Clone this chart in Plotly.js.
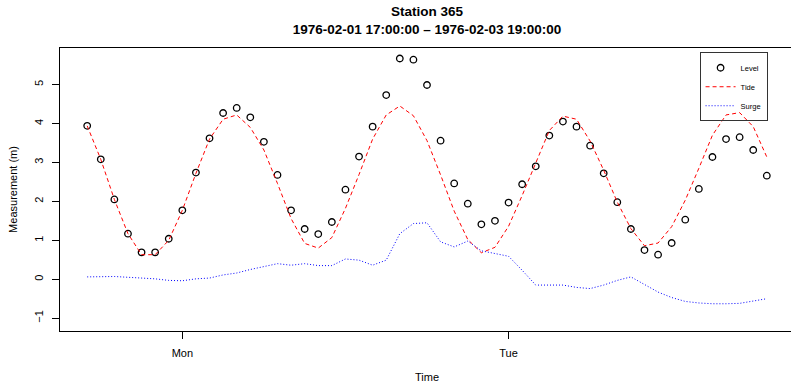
<!DOCTYPE html>
<html>
<head>
<meta charset="utf-8">
<script src="https://cdn.plot.ly/plotly-3.0.1.min.js"></script>
<style>
  html, body { margin: 0; padding: 0; overflow: hidden; background: #fff; }
  #chart { width: 794px; height: 383px; }
</style>
</head>
<body>
<div id="chart"></div>
<script>
const times = [
  '1976-02-01 17:00','1976-02-01 18:00','1976-02-01 19:00','1976-02-01 20:00','1976-02-01 21:00',
  '1976-02-01 22:00','1976-02-01 23:00','1976-02-02 00:00','1976-02-02 01:00','1976-02-02 02:00',
  '1976-02-02 03:00','1976-02-02 04:00','1976-02-02 05:00','1976-02-02 06:00','1976-02-02 07:00',
  '1976-02-02 08:00','1976-02-02 09:00','1976-02-02 10:00','1976-02-02 11:00','1976-02-02 12:00',
  '1976-02-02 13:00','1976-02-02 14:00','1976-02-02 15:00','1976-02-02 16:00','1976-02-02 17:00',
  '1976-02-02 18:00','1976-02-02 19:00','1976-02-02 20:00','1976-02-02 21:00','1976-02-02 22:00',
  '1976-02-02 23:00','1976-02-03 00:00','1976-02-03 01:00','1976-02-03 02:00','1976-02-03 03:00',
  '1976-02-03 04:00','1976-02-03 05:00','1976-02-03 06:00','1976-02-03 07:00','1976-02-03 08:00',
  '1976-02-03 09:00','1976-02-03 10:00','1976-02-03 11:00','1976-02-03 12:00','1976-02-03 13:00',
  '1976-02-03 14:00','1976-02-03 15:00','1976-02-03 16:00','1976-02-03 17:00','1976-02-03 18:00',
  '1976-02-03 19:00'
];

const level = [
  3.94,3.08,2.05,1.17,0.69,0.69,1.04,1.77,2.74,3.62,
  4.27,4.40,4.16,3.53,2.68,1.77,1.29,1.16,1.47,2.30,
  3.15,3.92,4.73,5.67,5.64,4.99,3.56,2.46,1.94,1.41,
  1.50,1.97,2.44,2.90,3.69,4.05,3.92,3.43,2.72,1.98,
  1.29,0.75,0.63,0.93,1.53,2.32,3.14,3.60,3.65,3.32,2.66
];

const tide = [
  3.94,3.08,2.05,1.17,0.63,0.63,1.00,1.77,2.72,3.60,
  4.11,4.22,3.90,3.32,2.46,1.56,0.92,0.80,1.07,1.82,
  2.69,3.60,4.22,4.45,4.20,3.56,2.68,1.75,1.02,0.68,
  0.82,1.36,2.15,3.00,3.82,4.19,4.11,3.55,2.80,1.98,
  1.30,0.86,0.93,1.35,2.03,2.85,3.70,4.22,4.28,3.92,3.14
];

const surge = [
  0.06,0.07,0.07,0.05,0.03,0.01,-0.03,-0.04,0.01,0.03,
  0.11,0.16,0.25,0.33,0.40,0.36,0.40,0.35,0.35,0.52,
  0.49,0.36,0.49,1.17,1.43,1.45,0.96,0.83,0.98,0.73,
  0.66,0.59,0.23,-0.15,-0.15,-0.15,-0.21,-0.24,-0.15,-0.03,
  0.06,-0.13,-0.33,-0.47,-0.57,-0.61,-0.63,-0.63,-0.62,-0.56,-0.50
];

const xTickVals = ['1976-02-02 00:00', '1976-02-03 00:00'];
const xTickText = ['Mon', 'Tue'];
const yTickVals = [-1, 0, 1, 2, 3, 4, 5];

const FONT = 'Liberation Sans, Arial, Helvetica, sans-serif';

const traces = [
  {
    x: times, y: level, name: 'Level', type: 'scatter', mode: 'markers',
    marker: { symbol: 'circle-open', size: 6.5, color: '#000', line: { width: 1.3, color: '#000' } }
  },
  {
    x: times, y: tide, name: 'Tide', type: 'scatter', mode: 'lines',
    line: { color: '#ff0000', width: 1, dash: '4px,3px' }
  },
  {
    x: times, y: surge, name: 'Surge', type: 'scatter', mode: 'lines',
    line: { color: '#0000ff', width: 1, dash: '1px,2px' }
  }
];

const layout = {
  width: 794, height: 383,
  margin: { l: 60, r: 0, t: 48, b: 52 },
  paper_bgcolor: '#fff', plot_bgcolor: '#fff',
  font: { family: FONT, size: 11, color: '#000' },
  showlegend: true,
  title: {
    text: '<b>Station 365</b><br><b>1976-02-01 17:00:00 \u2013 1976-02-03 19:00:00</b>',
    font: { family: FONT, size: 13.5, color: '#000' },
    x: 0.5, xref: 'paper', xanchor: 'center',
    y: 0.957, yref: 'container', yanchor: 'top'
  },
  xaxis: {
    type: 'date',
    range: ['1976-02-01 15:00', '1976-02-03 21:00'],
    tickmode: 'array', tickvals: xTickVals, ticktext: xTickText,
    ticks: 'outside', ticklen: 7, tickwidth: 1, tickcolor: '#000',
    showline: true, linecolor: '#000', linewidth: 1, mirror: true,
    showgrid: false, zeroline: false,
    tickfont: { family: FONT, size: 11, color: '#000' },
    ticklabelstandoff: 5,
    title: { text: 'Time', font: { family: FONT, size: 11, color: '#000' }, standoff: 18 },
    automargin: false
  },
  yaxis: {
    range: [-1.33, 5.94],
    tickmode: 'array', tickvals: yTickVals,
    ticks: 'outside', ticklen: 7, tickwidth: 1, tickcolor: '#000',
    tickangle: -90,
    showline: true, linecolor: '#000', linewidth: 1, mirror: true,
    showgrid: false, zeroline: false,
    tickfont: { family: FONT, size: 11, color: '#000' },
    ticklabelstandoff: 5,
    title: { text: 'Measurement (m)', font: { family: FONT, size: 11, color: '#000' }, standoff: 12 },
    automargin: false
  },
  legend: {
    x: 0.964, xanchor: 'right', xref: 'paper',
    y: 0.985, yanchor: 'top', yref: 'paper',
    bgcolor: 'rgba(255,255,255,0)', bordercolor: '#333', borderwidth: 1,
    font: { family: FONT, size: 7.5, color: '#000' },
    itemwidth: 30
  }
};

Plotly.newPlot('chart', traces, layout, { staticPlot: true, displayModeBar: false });
</script>
</body>
</html>
